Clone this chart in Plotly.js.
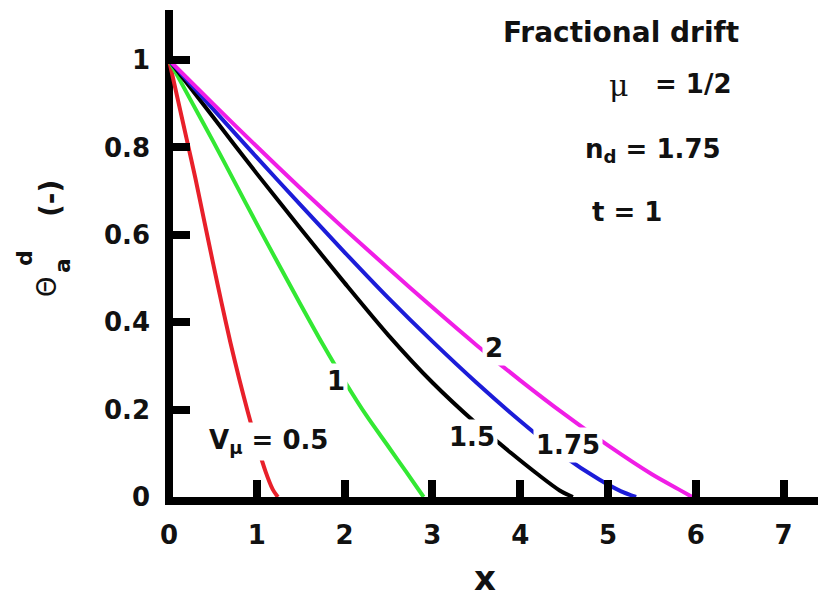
<!DOCTYPE html>
<html>
<head>
<meta charset="utf-8">
<script src="https://cdn.plot.ly/plotly-3.0.1.min.js"></script>
<style>html,body{margin:0;padding:0;background:#fff;}#chart{width:818px;height:601px;}</style>
</head>
<body>
<div id="chart"></div>
<script>
// ---- data ----
const xV05 = [0, 0.1, 0.2, 0.3, 0.4, 0.5, 0.6, 0.7, 0.8, 0.9, 1.0, 1.1, 1.18, 1.24];
const yV05 = [1, 0.91, 0.82, 0.73, 0.633, 0.537, 0.443, 0.353, 0.27, 0.193, 0.122, 0.058, 0.018, 0];

const xV1 = [0, 0.25, 0.5, 0.75, 1.0, 1.25, 1.5, 1.75, 2.0, 2.25, 2.5, 2.7, 2.9];
const yV1 = [1, 0.907, 0.815, 0.72, 0.625, 0.532, 0.44, 0.35, 0.265, 0.186, 0.115, 0.058, 0];

const xV15 = [0, 0.5, 1.0, 1.5, 2.0, 2.5, 3.0, 3.5, 3.9, 4.2, 4.45, 4.6];
const yV15 = [1, 0.87, 0.74, 0.614, 0.49, 0.37, 0.262, 0.168, 0.1, 0.052, 0.015, 0];

const xV175 = [0, 0.5, 1.0, 1.5, 2.0, 2.5, 3.0, 3.5, 4.0, 4.5, 4.9, 5.15, 5.32];
const yV175 = [1, 0.888, 0.777, 0.668, 0.56, 0.455, 0.356, 0.262, 0.174, 0.093, 0.04, 0.013, 0];

const xV2 = [0, 0.5, 1.0, 1.5, 2.0, 2.5, 3.0, 3.5, 4.0, 4.5, 5.0, 5.5, 5.8, 5.96];
const yV2 = [1, 0.9, 0.802, 0.706, 0.613, 0.523, 0.434, 0.348, 0.267, 0.19, 0.118, 0.052, 0.018, 0];

const xTickVals = [0, 1, 2, 3, 4, 5, 6, 7];
const yTickVals = [0, 0.2, 0.4, 0.6, 0.8, 1];

// ---- layout helpers (pixels -> paper) ----
const W = 818, H = 601;
const M = {l: 165, r: 0, t: 10, b: 104};
const PW = W - M.l - M.r, PH = H - M.t - M.b;
const px = v => (v - M.l) / PW;
const py = v => (H - M.b - v) / PH;

const FONT = 'DejaVu Sans, Arial, sans-serif';
const bold = (size) => ({family: FONT, size: size, color: '#111', weight: 'bold'});

function line(x, y, color) {
  return {x: x, y: y, type: 'scatter', mode: 'lines',
          line: {color: color, width: 4, shape: 'spline', smoothing: 0.8},
          hoverinfo: 'skip', showlegend: false};
}

const traces = [
  line(xV05, yV05, '#e8202a'),
  line(xV1, yV1, '#33e833'),
  line(xV15, yV15, '#000000'),
  line(xV175, yV175, '#1c1cd8'),
  line(xV2, yV2, '#f01ee6')
];

function ann(text, x, y, size, opts) {
  return Object.assign({text: text, xref: 'paper', yref: 'paper', x: px(x), y: py(y),
    showarrow: false, font: bold(size), xanchor: 'center', yanchor: 'middle'}, opts || {});
}
const lbl = (text, x, y) => ann(text, x, y, 26, {bgcolor: '#ffffff', borderpad: 2});

const annotations = [
  // right-hand text block
  ann('Fractional drift', 621, 33, 28),
  ann('μ', 619, 86, 30, {font: {family: 'DejaVu Serif, serif', size: 30, color: '#111'}}),
  ann('= 1/2', 653, 84, 26, {xanchor: 'left'}),
  ann('n<sub>d</sub> = 1.75', 583, 150, 26, {xanchor: 'left'}),
  ann('t = 1', 590, 212, 26, {xanchor: 'left'}),
  // curve labels
  lbl('V<sub>μ</sub> = 0.5', 268, 441),
  lbl('1', 336, 381),
  lbl('1.5', 472, 437),
  lbl('1.75', 568, 445),
  lbl('2', 494, 348),
  // axis titles
  ann('x', 485, 578, 34),
  ann('Θ', 47, 287, 26, {textangle: -90, font: {family: FONT, size: 26, color: '#111'}}),
  ann('a', 62, 266, 22, {textangle: -90}),
  ann('d', 24, 258, 22, {textangle: -90}),
  ann('(-)', 51, 198, 28, {textangle: -90})
];

const layout = {
  width: W, height: H,
  margin: M,
  paper_bgcolor: '#ffffff', plot_bgcolor: '#ffffff',
  showlegend: false,
  xaxis: {
    range: [-(4 / 87.8), (W - M.l - M.r - 4) / 87.8],
    tickvals: xTickVals, ticktext: xTickVals.map(String),
    ticks: 'inside', ticklen: 17, tickwidth: 8, tickcolor: '#000',
    showline: true, linewidth: 8, linecolor: '#000',
    zeroline: true, zerolinewidth: 8, zerolinecolor: '#000',
    showgrid: false, tickfont: bold(26), ticklabelstandoff: 8
  },
  yaxis: {
    range: [0, (H - M.b - M.t) / 437],
    tickvals: yTickVals, ticktext: yTickVals.map(String),
    ticks: 'inside', ticklen: 25, tickwidth: 8, tickcolor: '#000',
    showline: false, zeroline: false, showgrid: false,
    tickfont: bold(26), ticklabelstandoff: 14
  },
  annotations: annotations
};

Plotly.newPlot('chart', traces, layout, {displayModeBar: false, staticPlot: true});
</script>
</body>
</html>
